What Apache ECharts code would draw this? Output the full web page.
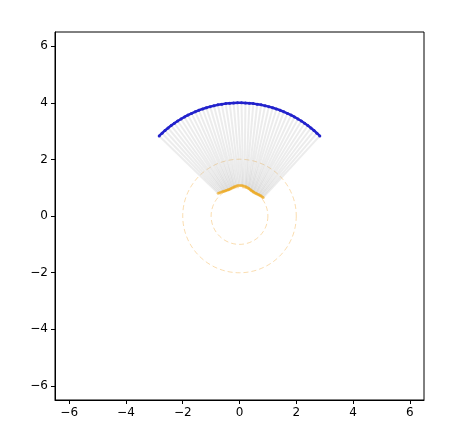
<!DOCTYPE html>
<html>
<head>
<meta charset="utf-8">
<script src="https://cdn.jsdelivr.net/npm/echarts@6/dist/echarts.min.js"></script>
<style>
  html, body { margin: 0; padding: 0; background: #fff; }
  #chart { width: 472px; height: 441px; }
</style>
</head>
<body>
<div id="chart"></div>
<script>
// outer arc (blue), angles in degrees, radius 4
const outerAngles = [45, 47, 49, 51, 53, 55, 57, 59, 61, 63, 65, 67, 69, 71, 73, 75,
  77, 79, 81, 83, 85, 87, 89, 91, 93, 95, 97, 99, 101, 103, 105, 107, 109, 111,
  113, 115, 117, 119, 121, 123, 125, 127, 129, 131, 133, 135]
const outerRadius = 4

// inner points (orange), roughly matched one to one with the outer ones
const innerAngles = [38, 40, 42.5, 44, 46.5, 48, 50, 52.5, 54, 56, 58.5, 60, 62, 64.5,
  66, 68, 70.5, 72, 74, 76.5, 78, 80.5, 83, 85, 87.5, 90, 92.5, 95, 97, 99.5, 101,
  103.5, 105, 107.5, 109, 111.5, 113, 115, 117.5, 119, 121.5, 123, 125.5, 128, 130.5, 133]
const innerRadii = [1.06, 1.05, 1.04, 1.03, 1.02, 1.01, 1.0, 0.99, 0.99, 0.98, 0.98,
  0.98, 0.99, 0.99, 1.0, 1.01, 1.02, 1.03, 1.04, 1.05, 1.06, 1.07, 1.07, 1.08, 1.08,
  1.08, 1.08, 1.07, 1.06, 1.05, 1.04, 1.03, 1.02, 1.02, 1.01, 1.01, 1.01, 1.01, 1.02,
  1.02, 1.03, 1.04, 1.05, 1.06, 1.08, 1.1]

// dashed reference circles
const circleRadii = [1, 2]

const tickValues = [-6, -4, -2, 0, 2, 4, 6]

const toXY = (r, deg) => [r * Math.cos(deg * Math.PI / 180), r * Math.sin(deg * Math.PI / 180)]

const outerPts = outerAngles.map(a => toXY(outerRadius, a))
const innerPts = innerAngles.map((a, i) => toXY(innerRadii[i], a))
const links = innerPts.map((p, i) => ({ coords: [p, outerPts[i]] }))

const fmt = v => String(v).replace('-', '\u2212')

const axisCommon = {
  type: 'value',
  min: -6.5,
  max: 6.5,
  splitLine: { show: false },
  axisLine: { show: true, onZero: false, lineStyle: { color: '#000', width: 1 } },
  axisTick: { show: true, length: 4, customValues: tickValues, lineStyle: { color: '#000' } },
  axisLabel: {
    customValues: tickValues,
    formatter: fmt,
    color: '#000',
    fontSize: 12,
    fontFamily: 'DejaVu Sans',
    margin: 7
  }
}

const chart = echarts.init(document.getElementById('chart'))
chart.setOption({
  animation: false,
  grid: {
    left: 55, right: 48, top: 32, bottom: 41,
    show: true, borderColor: '#000', borderWidth: 1, backgroundColor: '#fff'
  },
  xAxis: axisCommon,
  yAxis: axisCommon,
  series: [
    {
      type: 'custom',
      data: circleRadii.map(r => [0, 0, r]),
      renderItem: (params, api) => {
        const c = api.coord([api.value(0), api.value(1)])
        const rr = api.size([api.value(2), 0])[0]
        return {
          type: 'circle',
          shape: { cx: c[0], cy: c[1], r: rr },
          style: { fill: null, stroke: 'rgba(245,180,80,0.45)', lineWidth: 1, lineDash: [5, 3] }
        }
      },
      z: 1
    },
    {
      type: 'lines',
      coordinateSystem: 'cartesian2d',
      data: links,
      lineStyle: { color: '#aaa', width: 2, opacity: 0.22 },
      z: 2
    },
    {
      type: 'line',
      data: outerPts,
      symbol: 'circle',
      symbolSize: 3,
      showSymbol: true,
      lineStyle: { color: '#2222cc', width: 2.5 },
      itemStyle: { color: '#2222cc' },
      z: 4
    },
    {
      type: 'scatter',
      data: innerPts,
      symbolSize: 3,
      itemStyle: { color: 'rgba(236,168,30,0.75)' },
      z: 3
    }
  ]
})
</script>
</body>
</html>
